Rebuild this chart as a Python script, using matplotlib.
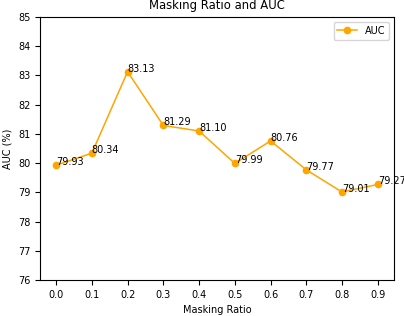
import matplotlib
matplotlib.use("Agg")
import matplotlib.pyplot as plt

# masking ratio vs AUC
ratios = [0.0, 0.1, 0.2, 0.3, 0.4, 0.5, 0.6, 0.7, 0.8, 0.9]
auc = [79.93, 80.34, 83.13, 81.29, 81.10, 79.99, 80.76, 79.77, 79.01, 79.27]

plt.rcParams['font.size'] = 7

fig = plt.figure(figsize=(4.04, 3.16), dpi=100)
ax = fig.add_axes([0.099, 0.114, 0.876, 0.832])

ax.plot(ratios, auc, marker='o', color='orange', markersize=4.5, linewidth=1.1, label='AUC')
for x, y in zip(ratios, auc):
    ax.text(x, y, f'{y:.2f}')

ax.set_ylim(76, 85)
ax.set_xticks(ratios)
ax.set_xlabel('Masking Ratio')
ax.set_ylabel('AUC (%)')
ax.set_title('Masking Ratio and AUC')
ax.legend(loc='upper right')

fig.savefig('out.png')
